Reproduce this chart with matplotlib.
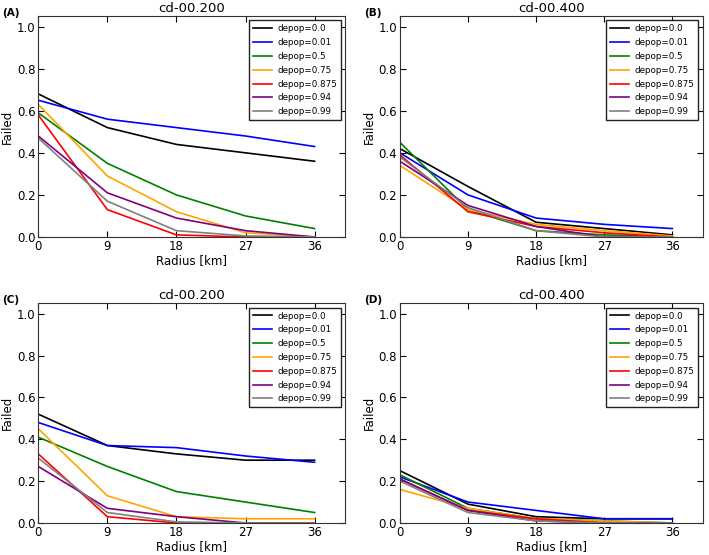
import matplotlib
matplotlib.use("Agg")
import matplotlib.pyplot as plt

radius = [0, 9, 18, 27, 36]
depops = ["0.0", "0.01", "0.5", "0.75", "0.875", "0.94", "0.99"]
colors = ["black", "blue", "green", "orange", "red", "purple", "gray"]

# failed fraction per depop level, one list per panel
panel_a = [
    [0.68, 0.52, 0.44, 0.40, 0.36],
    [0.65, 0.56, 0.52, 0.48, 0.43],
    [0.59, 0.35, 0.20, 0.10, 0.04],
    [0.63, 0.29, 0.12, 0.02, 0.00],
    [0.58, 0.13, 0.01, 0.00, 0.00],
    [0.48, 0.21, 0.09, 0.03, 0.00],
    [0.47, 0.17, 0.03, 0.005, 0.00],
]
panel_b = [
    [0.42, 0.24, 0.07, 0.04, 0.01],
    [0.40, 0.20, 0.09, 0.06, 0.04],
    [0.45, 0.13, 0.03, 0.01, 0.00],
    [0.34, 0.13, 0.06, 0.03, 0.005],
    [0.39, 0.12, 0.05, 0.02, 0.00],
    [0.36, 0.15, 0.05, 0.00, 0.00],
    [0.38, 0.14, 0.03, 0.00, 0.00],
]
panel_c = [
    [0.52, 0.37, 0.33, 0.30, 0.30],
    [0.48, 0.37, 0.36, 0.32, 0.29],
    [0.41, 0.27, 0.15, 0.10, 0.05],
    [0.45, 0.13, 0.03, 0.02, 0.02],
    [0.33, 0.03, 0.00, 0.00, 0.00],
    [0.27, 0.07, 0.03, 0.00, 0.00],
    [0.31, 0.05, 0.005, 0.00, 0.00],
]
panel_d = [
    [0.25, 0.09, 0.03, 0.02, 0.02],
    [0.22, 0.10, 0.06, 0.02, 0.02],
    [0.23, 0.07, 0.02, 0.01, 0.00],
    [0.16, 0.07, 0.02, 0.01, 0.00],
    [0.21, 0.06, 0.02, 0.00, 0.00],
    [0.21, 0.06, 0.01, 0.00, 0.00],
    [0.20, 0.05, 0.01, 0.00, 0.00],
]

panels = [
    ("(A)", "cd-00.200", panel_a, [0.054, 0.573, 0.433, 0.398]),
    ("(B)", "cd-00.400", panel_b, [0.564, 0.573, 0.427, 0.398]),
    ("(C)", "cd-00.200", panel_c, [0.054, 0.0577, 0.433, 0.396]),
    ("(D)", "cd-00.400", panel_d, [0.564, 0.0577, 0.427, 0.396]),
]

fig = plt.figure(figsize=(7.09, 5.55), dpi=100)

for letter, title, data, pos in panels:
    ax = fig.add_axes(pos)
    for vals, dp, c in zip(data, depops, colors):
        ax.plot(radius, vals, color=c, lw=1.2, label="depop=" + dp)
    ax.set_xlim(0, 40)
    ax.set_ylim(0, 1.05)
    ax.set_xticks(radius)
    ax.set_yticks([0.0, 0.2, 0.4, 0.6, 0.8, 1.0])
    ax.set_yticklabels(["0.0", "0.2", "0.4", "0.6", "0.8", "1.0"])
    ax.tick_params(direction="in", top=True, right=True, labelsize=8.5, length=4, pad=2)
    ax.set_xlabel("Radius [km]", fontsize=8.5, labelpad=1)
    ax.set_ylabel("Failed", fontsize=8.5, labelpad=2)
    ax.set_title(title, fontsize=9.5, pad=3)
    for sp in ax.spines.values():
        sp.set_color("#333333")
    leg = ax.legend(loc="upper right", fontsize=6.3, fancybox=False, framealpha=1,
                    edgecolor="#222222", handlelength=2.2, borderaxespad=0.5,
                    labelspacing=0.55, handletextpad=0.6, borderpad=0.45)
    leg.get_frame().set_linewidth(1.0)
    fig.text(pos[0] - 0.051, pos[1] + pos[3] - 0.003, letter, fontsize=7.5,
             fontweight="bold", va="bottom", ha="left")

fig.savefig("out.png", dpi=100)
